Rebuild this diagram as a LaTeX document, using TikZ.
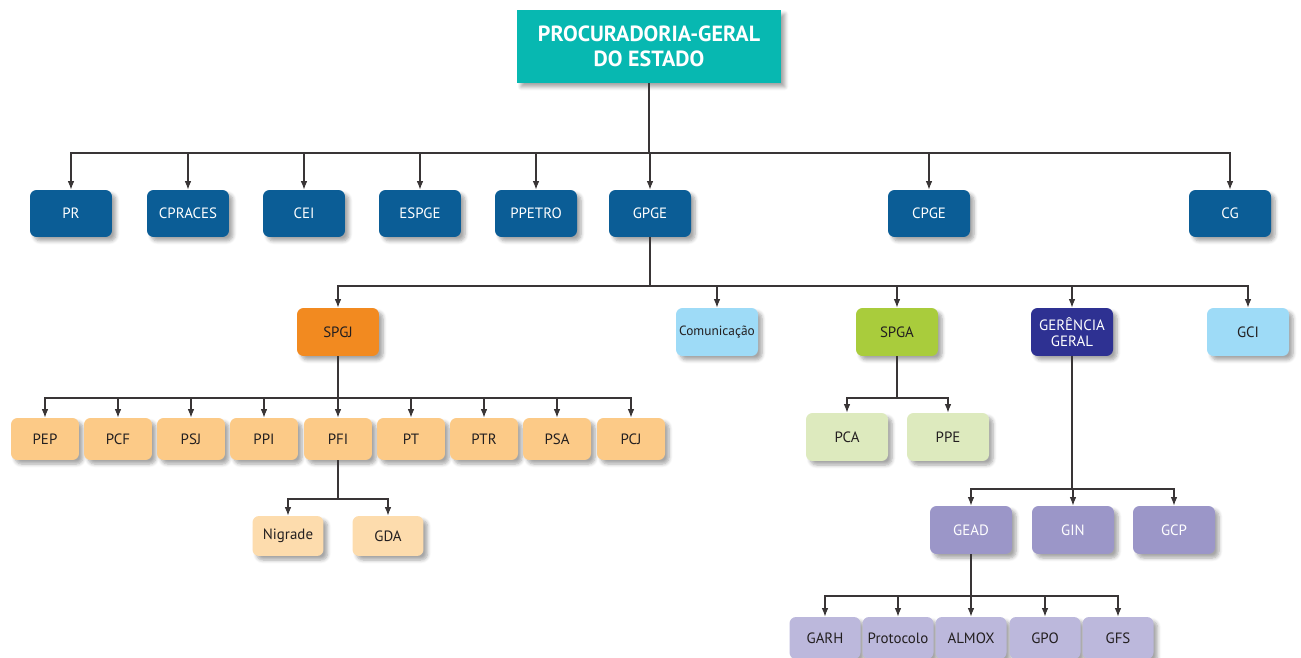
\documentclass[tikz,border=0pt]{standalone}
\usepackage{fontspec}
\setmainfont{PT Sans}
\usepackage{tikz}
\usetikzlibrary{arrows.meta,shadows.blur}
\definecolor{TopTeal}{HTML}{07B8B1}
\definecolor{DirBlue}{HTML}{0B5D96}
\definecolor{SpgjOrange}{HTML}{F28A20}
\definecolor{ComBlue}{HTML}{9EDBF7}
\definecolor{SpgaGreen}{HTML}{A9CC3C}
\definecolor{GerNavy}{HTML}{2E3192}
\definecolor{ProcOrange}{HTML}{FCCA87}
\definecolor{PfiOrange}{HTML}{FDDCAD}
\definecolor{SpgaLight}{HTML}{DDEABE}
\definecolor{GerLilac}{HTML}{9B96C8}
\definecolor{GeadLilac}{HTML}{BCB8DC}
\definecolor{InkGray}{HTML}{231F20}

\tikzset{
  unit/.style={rounded corners=0.13cm, align=center, inner sep=1pt,
    font=\fontsize{8.5}{9.5}\selectfont, text=InkGray,
    blur shadow={shadow xshift=0.08cm, shadow yshift=-0.08cm, shadow blur steps=6, shadow opacity=35}},
  dir/.style={unit, fill=DirBlue, text=white, minimum width=1.64cm, minimum height=0.94cm},
  sub/.style={unit, minimum width=1.64cm, minimum height=0.96cm},
  proc/.style={unit, fill=ProcOrange, minimum width=1.36cm, minimum height=0.84cm},
  leaf/.style={unit, minimum width=1.42cm, minimum height=0.84cm},
  link/.style={draw=InkGray!90, line width=0.6pt, -{Latex[length=0.17cm,width=0.13cm]}}
}

\begin{document}
\begin{tikzpicture}[x=0.02cm,y=-0.02cm]
  \useasboundingbox (0,0) rectangle (1301,658);

  % topo
  \node[unit, fill=TopTeal, text=white, rounded corners=0pt, minimum width=5.28cm, minimum height=1.46cm,
    font=\fontsize{12.5}{14}\selectfont\bfseries] (pge) at (649,46.5) {PROCURADORIA-GERAL\\DO ESTADO};

  % diretoria
  \node[dir] (pr) at (71,213.5) {PR};
  \node[dir] (cpraces) at (188,213.5) {CPRACES};
  \node[dir] (cei) at (304,213.5) {CEI};
  \node[dir] (espge) at (420,213.5) {ESPGE};
  \node[dir] (ppetro) at (536,213.5) {PPETRO};
  \node[dir] (gpge) at (650,213.5) {GPGE};
  \node[dir] (cpge) at (929,213.5) {CPGE};
  \node[dir] (cg) at (1230,213.5) {CG};

  % segundo nivel
  \node[sub, fill=SpgjOrange] (spgj) at (338,332) {SPGJ};
  \node[sub, fill=ComBlue, inner sep=0pt, font=\fontsize{7.6}{9}\selectfont] (com) at (717,332) {Comunicação};
  \node[sub, fill=SpgaGreen] (spga) at (897,332) {SPGA};
  \node[sub, fill=GerNavy, text=white] (ger) at (1072,332) {GERÊNCIA\\GERAL};
  \node[sub, fill=ComBlue] (gci) at (1248,332) {GCI};

  % procuradorias da SPGJ
  \node[proc] (pep) at (45,439) {PEP};
  \node[proc] (pcf) at (118,439) {PCF};
  \node[proc] (psj) at (191,439) {PSJ};
  \node[proc] (ppi) at (264,439) {PPI};
  \node[proc] (pfi) at (338,439) {PFI};
  \node[proc] (pt) at (411,439) {PT};
  \node[proc] (ptr) at (484,439) {PTR};
  \node[proc] (psa) at (557,439) {PSA};
  \node[proc] (pcj) at (631,439) {PCJ};

  \node[leaf, fill=PfiOrange, minimum height=0.8cm] (nigrade) at (288,536) {Nigrade};
  \node[leaf, fill=PfiOrange, minimum height=0.8cm] (gda) at (388,536) {GDA};

  % SPGA
  \node[sub, fill=SpgaLight] (pca) at (847,437) {PCA};
  \node[sub, fill=SpgaLight] (ppe) at (948,437) {PPE};

  % gerencia geral
  \node[sub, fill=GerLilac, text=white] (gead) at (971,530) {GEAD};
  \node[sub, fill=GerLilac, text=white] (gin) at (1073,530) {GIN};
  \node[sub, fill=GerLilac, text=white] (gcp) at (1174,530) {GCP};

  \node[leaf, fill=GeadLilac] (garh) at (825,638) {GARH};
  \node[leaf, fill=GeadLilac] (prot) at (898,638) {Protocolo};
  \node[leaf, fill=GeadLilac] (almox) at (971,638) {ALMOX};
  \node[leaf, fill=GeadLilac] (gpo) at (1045,638) {GPO};
  \node[leaf, fill=GeadLilac] (gfs) at (1118,638) {GFS};

  % barramentos
  \coordinate (b0) at (649,153);
  \coordinate (b1) at (650,286);
  \coordinate (b2) at (338,398);
  \coordinate (b3) at (338,499);
  \coordinate (b4) at (897,398);
  \coordinate (b5) at (1072,489);
  \coordinate (b6) at (971,596);

  \foreach \c in {pr,cpraces,cei,espge,ppetro,gpge,cpge,cg}
    \draw[link] (pge.south) -- (b0) -| (\c.north);
  \foreach \c in {spgj,com,spga,ger,gci}
    \draw[link] (gpge.south) -- (b1) -| (\c.north);
  \foreach \c in {pep,pcf,psj,ppi,pfi,pt,ptr,psa,pcj}
    \draw[link] (spgj.south) -- (b2) -| (\c.north);
  \foreach \c in {nigrade,gda}
    \draw[link] (pfi.south) -- (b3) -| (\c.north);
  \foreach \c in {pca,ppe}
    \draw[link] (spga.south) -- (b4) -| (\c.north);
  \foreach \c in {gead,gin,gcp}
    \draw[link] (ger.south) -- (b5) -| (\c.north);
  \foreach \c in {garh,prot,almox,gpo,gfs}
    \draw[link] (gead.south) -- (b6) -| (\c.north);
\end{tikzpicture}
\end{document}
